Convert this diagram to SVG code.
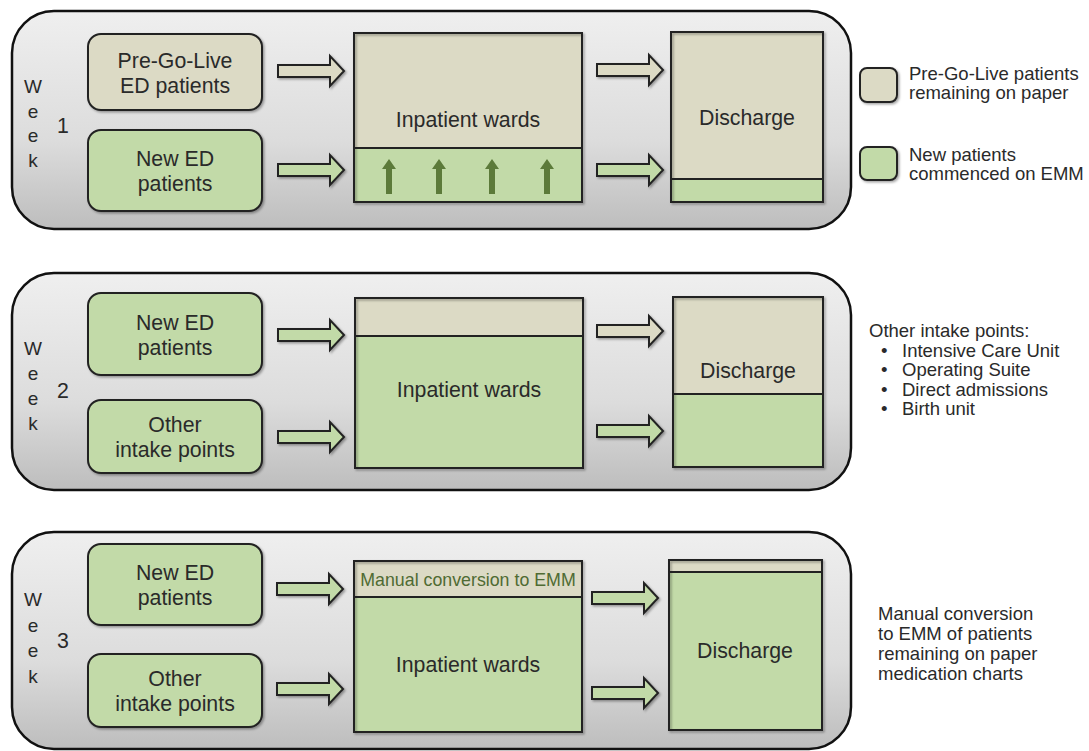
<svg xmlns="http://www.w3.org/2000/svg" width="1089" height="751" viewBox="0 0 1089 751">
<defs>
<linearGradient id="pg" x1="0" y1="0" x2="0" y2="1">
<stop offset="0" stop-color="#efefef"/>
<stop offset="0.6" stop-color="#dcdcdc"/>
<stop offset="1" stop-color="#bdbdbd"/>
</linearGradient>
<filter id="sh" x="-10%" y="-10%" width="130%" height="130%">
<feDropShadow dx="1.5" dy="1.5" stdDeviation="1.2" flood-color="#000" flood-opacity="0.35"/>
</filter>
</defs>
<style>
.panel{fill:url(#pg);stroke:#111;stroke-width:2.5}
.tan{fill:#dcdac5}
.grn{fill:#c2daa8}
.box{stroke:#222;stroke-width:2;filter:url(#sh)}
.line{stroke:#222;stroke-width:2;fill:none}
.arr{stroke:#222;stroke-width:2;stroke-linejoin:miter;filter:url(#sh)}
.up{fill:#5c7a3a}
text{font-family:"Liberation Sans",Arial,sans-serif;fill:#2a2a2a}
.t20{font-size:21.3px;text-anchor:middle}
.t18{font-size:19px;text-anchor:middle}
.t16{font-size:18.5px}
</style>

<!-- Week 1 -->
<g id="week1">
<rect class="panel" x="12" y="11" width="839" height="218" rx="42"/>
<text class="t18" x="33" y="93">W</text>
<text class="t18" x="33" y="118">e</text>
<text class="t18" x="33" y="142">e</text>
<text class="t18" x="33" y="167">k</text>
<text class="t20" x="63" y="133">1</text>
</g>
<g id="w1-prego">
<rect class="box tan" x="88" y="34" width="174" height="76" rx="13"/>
<text class="t20" x="175" y="68">Pre-Go-Live</text>
<text class="t20" x="175" y="93">ED patients</text>
</g>
<g id="w1-newed">
<rect class="box grn" x="88" y="130" width="174" height="81" rx="13"/>
<text class="t20" x="175" y="166">New ED</text>
<text class="t20" x="175" y="191">patients</text>
</g>
<g id="w1-wards">
<rect class="tan" x="354" y="33" width="228" height="115"/>
<rect class="grn" x="354" y="148" width="228" height="54"/>
<rect class="box" x="354" y="33" width="228" height="169" fill="none"/>
<line class="line" x1="354" y1="148" x2="582" y2="148"/>
<text class="t20" x="468" y="127">Inpatient wards</text>
<path class="up" d="M386 194V169H382L389 159L396 169H392V194Z"/>
<path class="up" d="M436 194V169H432L439 159L446 169H442V194Z"/>
<path class="up" d="M489 194V169H485L492 159L499 169H495V194Z"/>
<path class="up" d="M544 194V169H540L547 159L554 169H550V194Z"/>
</g>
<g id="w1-discharge">
<rect class="tan" x="671" y="32" width="152" height="147"/>
<rect class="grn" x="671" y="179" width="152" height="23"/>
<rect class="box" x="671" y="32" width="152" height="170" fill="none"/>
<line class="line" x1="671" y1="179" x2="823" y2="179"/>
<text class="t20" x="747" y="125">Discharge</text>
</g>
<g id="legend">
<rect class="box tan" x="860" y="68" width="37" height="34" rx="7"/>
<text class="t16" x="909" y="80">Pre-Go-Live patients</text>
<text class="t16" x="909" y="99">remaining on paper</text>
<rect class="box grn" x="860" y="147" width="37" height="33" rx="7"/>
<text class="t16" x="909" y="161">New patients</text>
<text class="t16" x="909" y="180">commenced on EMM</text>
</g>

<!-- Week 2 -->
<g id="week2">
<rect class="panel" x="12" y="273" width="839" height="217" rx="42"/>
<text class="t18" x="33" y="355">W</text>
<text class="t18" x="33" y="380">e</text>
<text class="t18" x="33" y="405">e</text>
<text class="t18" x="33" y="430">k</text>
<text class="t20" x="63" y="398">2</text>
</g>
<g id="w2-newed">
<rect class="box grn" x="88" y="293" width="174" height="82" rx="13"/>
<text class="t20" x="175" y="330">New ED</text>
<text class="t20" x="175" y="355">patients</text>
</g>
<g id="w2-other">
<rect class="box grn" x="88" y="400" width="174" height="73" rx="13"/>
<text class="t20" x="175" y="432">Other</text>
<text class="t20" x="175" y="457">intake points</text>
</g>
<g id="w2-wards">
<rect class="tan" x="355" y="298" width="228" height="38"/>
<rect class="grn" x="355" y="336" width="228" height="132"/>
<rect class="box" x="355" y="298" width="228" height="170" fill="none"/>
<line class="line" x1="355" y1="336" x2="583" y2="336"/>
<text class="t20" x="469" y="397">Inpatient wards</text>
</g>
<g id="w2-discharge">
<rect class="tan" x="673" y="297" width="150" height="97"/>
<rect class="grn" x="673" y="394" width="150" height="73"/>
<rect class="box" x="673" y="297" width="150" height="170" fill="none"/>
<line class="line" x1="673" y1="394" x2="823" y2="394"/>
<text class="t20" x="748" y="378">Discharge</text>
</g>
<g id="note2">
<text class="t16" x="869" y="337">Other intake points:</text>
<text class="t16" x="881" y="357">•</text><text class="t16" x="902" y="357">Intensive Care Unit</text>
<text class="t16" x="881" y="376">•</text><text class="t16" x="902" y="376">Operating Suite</text>
<text class="t16" x="881" y="396">•</text><text class="t16" x="902" y="396">Direct admissions</text>
<text class="t16" x="881" y="415">•</text><text class="t16" x="902" y="415">Birth unit</text>
</g>

<!-- Week 3 -->
<g id="week3">
<rect class="panel" x="12" y="532" width="839" height="217" rx="42"/>
<text class="t18" x="33" y="606">W</text>
<text class="t18" x="33" y="632">e</text>
<text class="t18" x="33" y="657">e</text>
<text class="t18" x="33" y="683">k</text>
<text class="t20" x="63" y="648">3</text>
</g>
<g id="w3-newed">
<rect class="box grn" x="88" y="544" width="174" height="81" rx="13"/>
<text class="t20" x="175" y="580">New ED</text>
<text class="t20" x="175" y="605">patients</text>
</g>
<g id="w3-other">
<rect class="box grn" x="88" y="654" width="174" height="73" rx="13"/>
<text class="t20" x="175" y="686">Other</text>
<text class="t20" x="175" y="711">intake points</text>
</g>
<g id="w3-wards">
<rect class="tan" x="354" y="561" width="228" height="36"/>
<rect class="grn" x="354" y="597" width="228" height="135"/>
<rect class="box" x="354" y="561" width="228" height="171" fill="none"/>
<line class="line" x1="354" y1="597" x2="582" y2="597"/>
<text x="468" y="586" style="font-size:17.8px;text-anchor:middle;fill:#4f6b33">Manual conversion to EMM</text>
<text class="t20" x="468" y="672">Inpatient wards</text>
</g>
<g id="w3-discharge">
<rect class="tan" x="669" y="560" width="153" height="12"/>
<rect class="grn" x="669" y="572" width="153" height="158"/>
<rect class="box" x="669" y="560" width="153" height="170" fill="none"/>
<line class="line" x1="669" y1="572" x2="822" y2="572"/>
<text class="t20" x="745" y="658">Discharge</text>
</g>
<g id="note3">
<text class="t16" x="878" y="620">Manual conversion</text>
<text class="t16" x="878" y="640">to EMM of patients</text>
<text class="t16" x="878" y="660">remaining on paper</text>
<text class="t16" x="878" y="680">medication charts</text>
</g>

<!-- Connectors -->
<g id="connectors">
<path class="arr tan" d="M278 65H330V56L344 71L330 86V77H278Z"/>
<path class="arr grn" d="M278 164H330V155L344 170L330 185V176H278Z"/>
<path class="arr tan" d="M597 64H649V55L663 70L649 85V76H597Z"/>
<path class="arr grn" d="M597 164H649V155L663 170L649 185V176H597Z"/>
<path class="arr grn" d="M278 329H330V320L344 335L330 350V341H278Z"/>
<path class="arr grn" d="M278 431H330V422L344 437L330 452V443H278Z"/>
<path class="arr tan" d="M597 325H649V316L663 331L649 346V337H597Z"/>
<path class="arr grn" d="M597 425H649V416L663 431L649 446V437H597Z"/>
<path class="arr grn" d="M277 583H329V574L343 589L329 604V595H277Z"/>
<path class="arr grn" d="M277 683H329V674L343 689L329 704V695H277Z"/>
<path class="arr grn" d="M592 592H644V583L658 598L644 613V604H592Z"/>
<path class="arr grn" d="M592 687H644V678L658 693L644 708V699H592Z"/>
</g>
</svg>
